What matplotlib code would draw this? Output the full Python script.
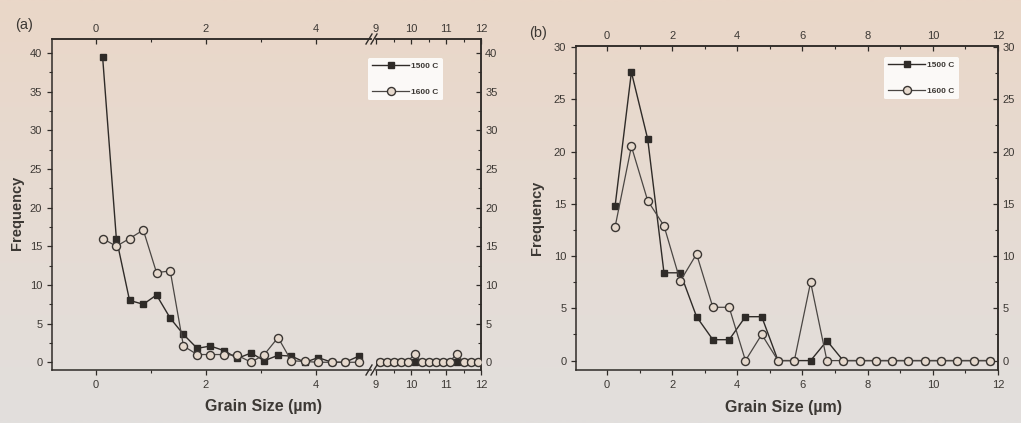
"""Grain size distributions at 1500 C and 1600 C, two panels (a) and (b)."""

import matplotlib.pyplot as plt
import numpy as np
from matplotlib.lines import Line2D
from matplotlib.ticker import FixedLocator, MultipleLocator

plt.rcParams["font.family"] = ["Liberation Sans", "DejaVu Sans"]

# --- panel (a): left part of the broken x axis (0 - 5 um)
a_size_lo = [0.12, 0.37, 0.61, 0.86, 1.10, 1.35, 1.59, 1.84, 2.08, 2.33,
             2.57, 2.82, 3.06, 3.31, 3.55, 3.80, 4.04, 4.29, 4.53, 4.78]
a_1500_lo = [39.5, 16.0, 8.0, 7.5, 8.7, 5.7, 3.6, 1.8, 2.1, 1.5,
             0.5, 1.2, 0.2, 0.9, 0.8, 0.0, 0.6, 0.0, 0.0, 0.8]
a_1600_lo = [16.0, 15.0, 16.0, 17.1, 11.6, 11.8, 2.1, 1.0, 1.0, 1.0,
             0.9, 0.0, 1.0, 3.2, 0.2, 0.1, 0.0, 0.0, 0.0, 0.0]

# --- panel (a): right part of the broken x axis (9 - 12 um)
a_size_hi = [9.1, 9.3, 9.5, 9.7, 9.9, 10.1, 10.3, 10.5, 10.7, 10.9,
             11.1, 11.3, 11.5, 11.7, 11.9]
a_1500_hi = [0, 0, 0, 0, 0, 0, 0, 0, 0, 0, 0, 0, 0, 0, 0]
a_1600_hi = [0, 0, 0, 0, 0, 1.1, 0, 0, 0, 0, 0, 1.1, 0, 0, 0]

# --- panel (b)
b_size = [0.25, 0.75, 1.25, 1.75, 2.25, 2.75, 3.25, 3.75, 4.25, 4.75, 5.25, 5.75,
          6.25, 6.75, 7.25, 7.75, 8.25, 8.75, 9.25, 9.75, 10.25, 10.75, 11.25, 11.75]
b_1500 = [14.8, 27.6, 21.2, 8.4, 8.4, 4.2, 2.0, 2.0, 4.2, 4.2, 0.0, 0.0,
          0.0, 1.9, 0, 0, 0, 0, 0, 0, 0, 0, 0, 0]
b_1600 = [12.8, 20.5, 15.3, 12.9, 7.6, 10.2, 5.1, 5.1, 0.0, 2.5, 0.0, 0.0,
          7.5, 0.0, 0, 0, 0, 0, 0, 0, 0, 0, 0, 0]

series_labels = ["1500 C", "1600 C"]
a_yticks = [0, 5, 10, 15, 20, 25, 30, 35, 40]
b_yticks = [0, 5, 10, 15, 20, 25, 30]

INK = "#2f2b28"
TXT = "#3c3834"
BG = "#e6d9cd"

W, H = 1021, 423


def box(left, top, right, bottom):
    # pixel box -> figure fraction rect
    return [left / W, 1 - bottom / H, (right - left) / W, (bottom - top) / H]


def draw_series(ax, x, y1500, y1600):
    ax.plot(x, y1500, color=INK, lw=1.0, marker="s", ms=5.0,
            mfc=INK, mec=INK, label=series_labels[0], zorder=3)
    ax.plot(x, y1600, color="#4a4643", lw=0.9, marker="o", ms=5.8,
            mfc=BG, mec="#3a3633", mew=1.0, label=series_labels[1], zorder=4)


def style(ax, xmajor, xminor, top_ticks, yticks, ylim, show_left=True, show_right=True):
    ax.set_facecolor("none")
    for s in ax.spines.values():
        s.set_color(INK)
        s.set_linewidth(1.1)
    ax.set_ylim(*ylim)
    yminor = FixedLocator([v + 2.5 for v in yticks[:-1]])
    ax.xaxis.set_major_locator(xmajor)
    ax.xaxis.set_minor_locator(xminor)
    ax.yaxis.set_major_locator(FixedLocator(yticks))
    ax.yaxis.set_minor_locator(yminor)
    ax.tick_params(axis="both", which="both", direction="out", colors=INK,
                   labelcolor=TXT, labelsize=8, top=False, right=False)
    ax.tick_params(which="major", length=3.5, width=0.9)
    ax.tick_params(which="minor", length=2, width=0.8)
    if not show_left:
        ax.spines["left"].set_visible(False)
        ax.tick_params(axis="y", which="both", left=False, labelleft=False)
    if not show_right:
        ax.spines["right"].set_visible(False)

    top = ax.secondary_xaxis("top")
    top.xaxis.set_major_locator(FixedLocator(top_ticks))
    top.xaxis.set_minor_locator(xminor)
    top.tick_params(which="both", direction="in", colors=INK, labelcolor=TXT, labelsize=8)
    top.tick_params(which="major", length=3.5, width=0.9)
    top.tick_params(which="minor", length=2, width=0.8)
    top.spines["top"].set_color(INK)
    top.spines["top"].set_linewidth(1.1)

    if show_right:
        right = ax.secondary_yaxis("right")
        right.yaxis.set_major_locator(FixedLocator(yticks))
        right.yaxis.set_minor_locator(yminor)
        right.tick_params(which="both", direction="in", colors=INK, labelcolor=TXT,
                          labelsize=8, pad=3)
        right.tick_params(which="major", length=3.5, width=0.9)
        right.tick_params(which="minor", length=2, width=0.8)
        right.spines["right"].set_color(INK)
        right.spines["right"].set_linewidth(1.1)


def add_legend(ax, x_px, y_px):
    handles, labels = ax.get_legend_handles_labels()
    leg = fig.legend(handles, labels, loc="upper left",
                     bbox_to_anchor=(x_px / W, 1 - y_px / H),
                     fontsize=6, frameon=True, facecolor="white", edgecolor="none",
                     framealpha=0.85, handlelength=4.4, labelspacing=2.2,
                     borderpad=0.5, handletextpad=0.3, borderaxespad=0)
    for t in leg.get_texts():
        t.set_fontweight("bold")
        t.set_color(TXT)
    return leg


fig = plt.figure(figsize=(W / 100, H / 100), dpi=100)

# photo-like background, warmer at the top
bg = fig.add_axes([0, 0, 1, 1], zorder=-10)
grad = np.linspace(0, 1, 64)[:, None]
top_c = np.array([234, 215, 200]) / 255
bot_c = np.array([226, 223, 221]) / 255
bg.imshow(top_c + grad[..., None] * (bot_c - top_c), aspect="auto",
          extent=[0, 1, 0, 1], interpolation="bilinear")
bg.axis("off")

# ---------------- panel (a) ----------------
ax_a1 = fig.add_axes(box(52, 39, 371, 370))
ax_a2 = fig.add_axes(box(376, 39, 481, 370))

draw_series(ax_a1, a_size_lo, a_1500_lo, a_1600_lo)
draw_series(ax_a2, a_size_hi, a_1500_hi, a_1600_hi)

ax_a1.set_xlim(-0.8, 5.0)
ax_a2.set_xlim(9, 12)
style(ax_a1, FixedLocator([0, 2, 4]), FixedLocator([1, 3]), [0, 2, 4], a_yticks,
      (-1, 41.8), show_left=True, show_right=False)
style(ax_a2, FixedLocator([9, 10, 11, 12]), FixedLocator([9.5, 10.5, 11.5]),
      [9, 10, 11, 12], a_yticks, (-1, 41.8), show_left=False, show_right=True)

# break marks
for yb in (39, 370):
    for xb in (369, 374):
        fig.add_artist(Line2D([(xb - 3) / W, (xb + 3) / W],
                              [1 - (yb + 5) / H, 1 - (yb - 5) / H],
                              color=INK, lw=1.0))

fig.text(24 / W, 1 - 25 / H, "(a)", fontsize=10.5, color=TXT, ha="center", va="center")
fig.text(17 / W, 1 - 213 / H, "Frequency", fontsize=10.5, fontweight="bold",
         color=TXT, rotation=90, ha="center", va="center")
fig.text(263 / W, 1 - 406 / H, "Grain Size (\u00b5m)", fontsize=11.5, fontweight="bold",
         color=TXT, ha="center", va="center")
add_legend(ax_a1, 368, 58)

# ---------------- panel (b) ----------------
ax_b = fig.add_axes(box(576, 46, 998, 370))
draw_series(ax_b, b_size, b_1500, b_1600)
ax_b.set_xlim(-0.95, 12)
style(ax_b, FixedLocator([0, 2, 4, 6, 8, 10, 12]), FixedLocator([1, 3, 5, 7, 9, 11]),
      [0, 2, 4, 6, 8, 10, 12], b_yticks, (-0.9, 30.1))

fig.text(538 / W, 1 - 33 / H, "(b)", fontsize=10.5, color=TXT, ha="center", va="center")
fig.text(537 / W, 1 - 218 / H, "Frequency", fontsize=10.5, fontweight="bold",
         color=TXT, rotation=90, ha="center", va="center")
fig.text(783 / W, 1 - 407 / H, "Grain Size (\u00b5m)", fontsize=11.5, fontweight="bold",
         color=TXT, ha="center", va="center")
add_legend(ax_b, 884, 57)

fig.savefig("out.png", dpi=100, facecolor=BG)
